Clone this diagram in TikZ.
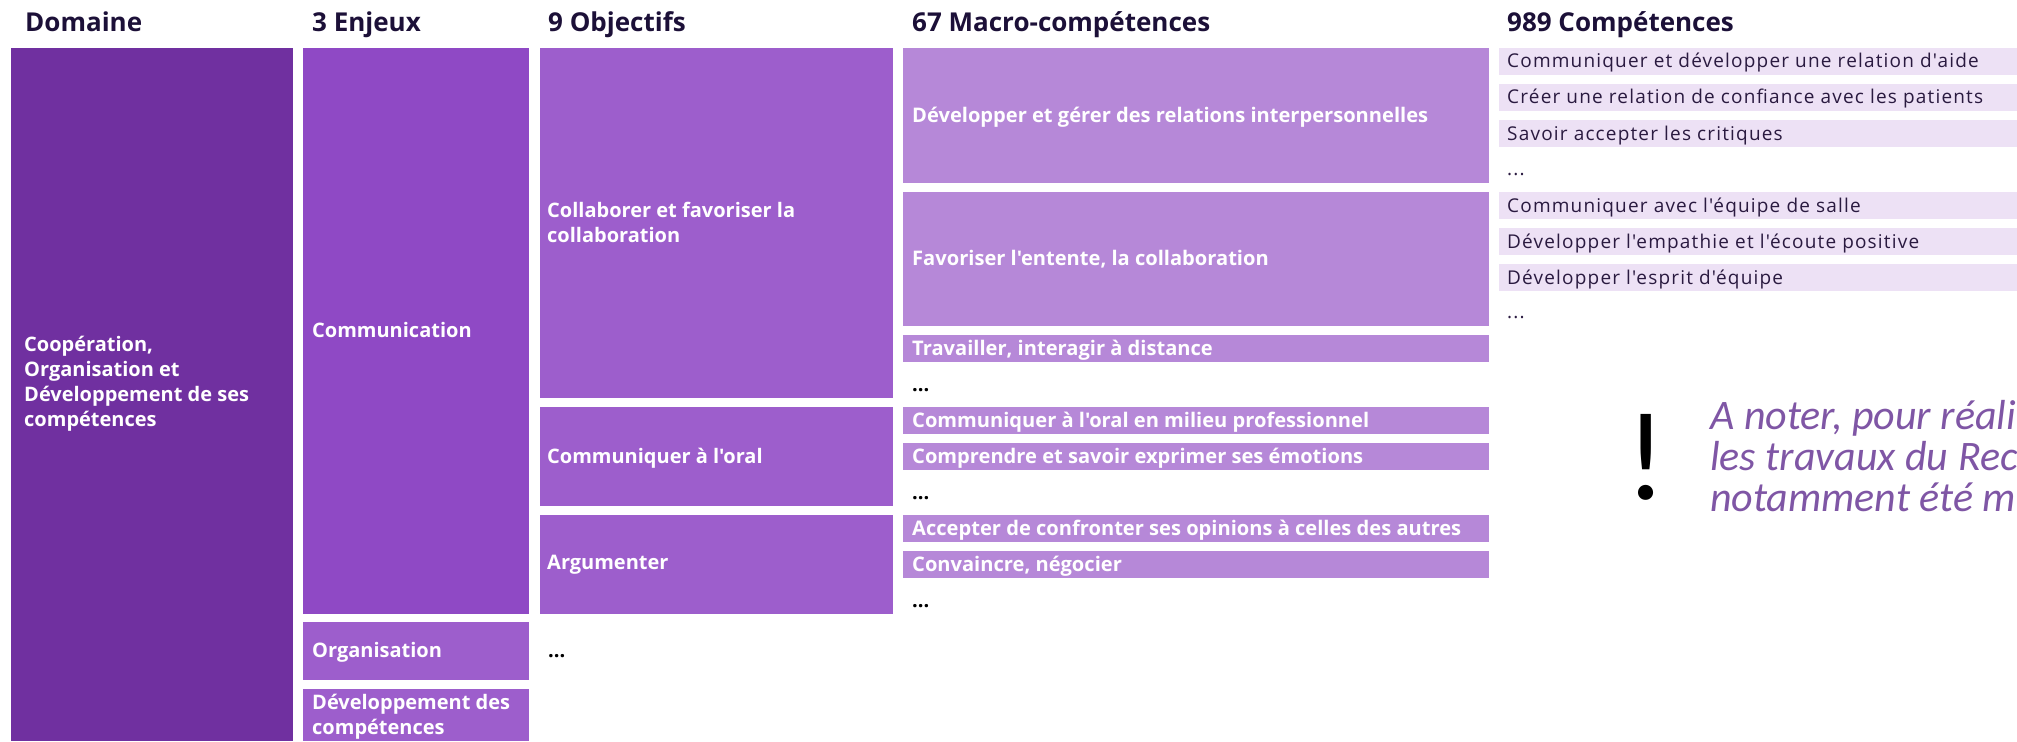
\documentclass[tikz,border=0pt]{standalone}
\usepackage{fontspec}
\newfontfamily\mainfamily{Open Sans}
\newfontfamily\compfamily{Open Sans}[LetterSpace=6.2]
\newfontfamily\notefamily{Carlito}
\definecolor{cdom}{HTML}{7030A0}
\definecolor{cenj}{HTML}{8F49C5}
\definecolor{cobj}{HTML}{9D5ECC}
\definecolor{cmac}{HTML}{B688D8}
\definecolor{ccomp}{HTML}{EDE1F5}
\definecolor{chead}{HTML}{1C1038}
\definecolor{ctxt}{HTML}{2A1A40}
\definecolor{cnote}{HTML}{7F56A5}
\newcommand\fHead{\mainfamily\fontsize{26}{30}\selectfont\bfseries}
\newcommand\fLab{\mainfamily\fontsize{20}{25}\selectfont\bfseries}
\newcommand\fMac{\mainfamily\fontsize{20.1}{25}\selectfont\bfseries}
\newcommand\fComp{\compfamily\fontsize{19}{25}\selectfont}
\newcommand\fNote{\notefamily\itshape\fontsize{42}{41}\selectfont}
\newcommand\fBang{\notefamily\fontsize{126}{130}\selectfont}
\newcommand\mlines[1]{\begin{tabular}[t]{@{}l@{}}#1\end{tabular}}
\tikzset{
  blk/.style={anchor=north west, inner sep=0pt, outer sep=0pt, draw=none, fill=#1},
  hd/.style={anchor=base west, inner sep=0pt, text=chead, font=\fHead},
  lb/.style={anchor=base west, inner sep=0pt, text=white, font=\fLab},
  mc/.style={anchor=base west, inner sep=0pt, text=white, font=\fMac},
  cp/.style={anchor=base west, inner sep=0pt, text=ctxt, font=\fComp},
  etc/.style={anchor=base west, inner sep=0pt, text=black, font=\fMac},
  nt/.style={anchor=base west, inner sep=0pt, text=cnote, font=\fNote},
}
\begin{document}
\begin{tikzpicture}[x=1pt,y=-1pt]
\useasboundingbox (0,0) rectangle (2017,741);
\fill[white] (0,0) rectangle (2017,741);
\clip (0,0) rectangle (2017,741);
% headings
\node[hd] (h1) at (25,32) {Domaine};
\node[hd] (h2) at (312,32) {3 Enjeux};
\node[hd] (h3) at (548,32) {9 Objectifs};
\node[hd] (h4) at (912,32) {67 Macro-compétences};
\node[hd] (h5) at (1507,32) {989 Compétences};
% domaine
\node[blk=cdom, minimum width=282pt, minimum height=693pt] (dom) at (11,48) {};
\node[lb] (domt) at (24,351) {\mlines{Coopération,\\Organisation et\\Développement de ses\\compétences}};
% enjeux
\node[blk=cenj, minimum width=226pt, minimum height=566pt] (e1) at (303,48) {};
\node[blk=cobj, minimum width=226pt, minimum height=58pt] (e2) at (303,622) {};
\node[blk=cobj, minimum width=226pt, minimum height=52pt] (e3) at (303,689) {};
\node[lb] (e1t) at (312,337) {Communication};
\node[lb] (e2t) at (312,657) {Organisation};
\node[lb] (e3t) at (312,709) {\mlines{Développement des\\compétences}};
% objectifs
\node[blk=cobj, minimum width=353pt, minimum height=350pt] (o1) at (540,48) {};
\node[blk=cobj, minimum width=353pt, minimum height=99pt] (o2) at (540,407) {};
\node[blk=cobj, minimum width=353pt, minimum height=99pt] (o3) at (540,515) {};
\node[lb] (o1t) at (547,217) {\mlines{Collaborer et favoriser la\\collaboration}};
\node[lb] (o2t) at (547,463) {Communiquer à l'oral};
\node[lb] (o3t) at (547,569) {Argumenter};
\node[etc] (oe) at (548,657) {...};
% macro-competences
\node[blk=cmac, minimum width=586pt, minimum height=135pt] (m1) at (903,48) {};
\node[blk=cmac, minimum width=586pt, minimum height=134pt] (m2) at (903,192) {};
\node[blk=cmac, minimum width=586pt, minimum height=27pt] (m3) at (903,335) {};
\node[blk=cmac, minimum width=586pt, minimum height=27pt] (m4) at (903,407) {};
\node[blk=cmac, minimum width=586pt, minimum height=27pt] (m5) at (903,443) {};
\node[blk=cmac, minimum width=586pt, minimum height=27pt] (m6) at (903,515) {};
\node[blk=cmac, minimum width=586pt, minimum height=27pt] (m7) at (903,551) {};
\node[mc] (m1t) at (912,122) {Développer et gérer des relations interpersonnelles};
\node[mc] (m2t) at (912,265) {Favoriser l'entente, la collaboration};
\node[mc] (m3t) at (912,355) {Travailler, interagir à distance};
\node[etc] (me1) at (912,391) {...};
\node[mc] (m4t) at (912,427) {Communiquer à l'oral en milieu professionnel};
\node[mc] (m5t) at (912,463) {Comprendre et savoir exprimer ses émotions};
\node[etc] (me2) at (912,499) {...};
\node[mc] (m6t) at (912,535) {Accepter de confronter ses opinions à celles des autres};
\node[mc] (m7t) at (912,571) {Convaincre, négocier};
\node[etc] (me3) at (912,607) {...};
% competences
\node[blk=ccomp, minimum width=518pt, minimum height=27pt] (c1) at (1499,48) {};
\node[blk=ccomp, minimum width=518pt, minimum height=27pt] (c2) at (1499,84) {};
\node[blk=ccomp, minimum width=518pt, minimum height=27pt] (c3) at (1499,120) {};
\node[blk=ccomp, minimum width=518pt, minimum height=27pt] (c4) at (1499,192) {};
\node[blk=ccomp, minimum width=518pt, minimum height=27pt] (c5) at (1499,228) {};
\node[blk=ccomp, minimum width=518pt, minimum height=27pt] (c6) at (1499,264) {};
\node[cp] (c1t) at (1507,68) {Communiquer et développer une relation d'aide};
\node[cp] (c2t) at (1507,104) {Créer une relation de confiance avec les patients};
\node[cp] (c3t) at (1507,140) {Savoir accepter les critiques};
\node[cp] (ce1) at (1507,175) {...};
\node[cp] (c4t) at (1507,212) {Communiquer avec l'équipe de salle};
\node[cp] (c5t) at (1507,248) {Développer l'empathie et l'écoute positive};
\node[cp] (c6t) at (1507,284) {Développer l'esprit d'équipe};
\node[cp] (ce2) at (1507,318) {...};
% note
\node[anchor=base, inner sep=0pt, text=black, font=\fBang] (bang) at (1646,499) {!};
\node[nt] (n1) at (1710,429) {A noter, pour réali};
\node[nt] (n2) at (1710,470) {les travaux du Rec};
\node[nt] (n3) at (1710,511) {notamment été m};
\end{tikzpicture}
\end{document}
